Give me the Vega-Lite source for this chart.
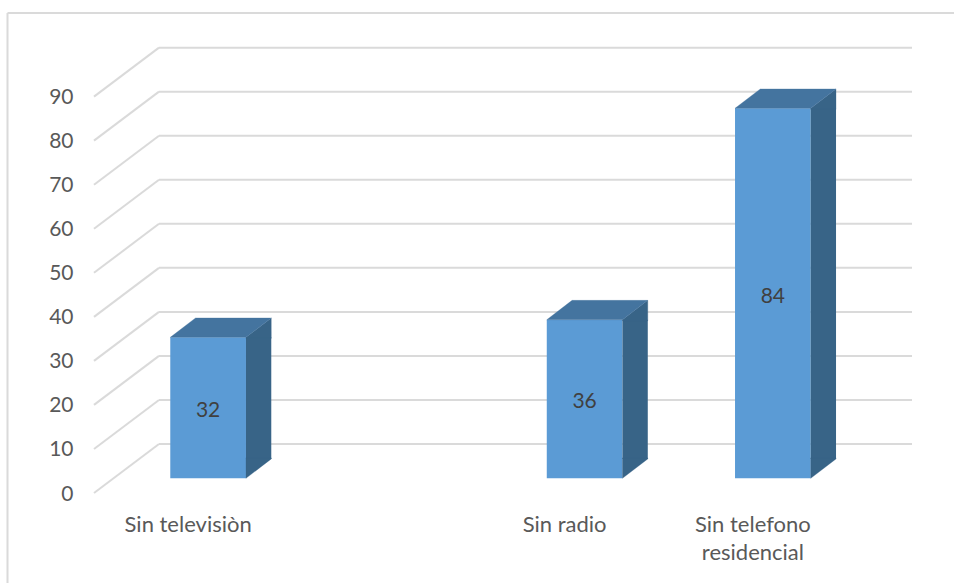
{
  "$schema": "https://vega.github.io/schema/vega-lite/v6.json",
  "width": 753,
  "height": 493,
  "autosize": "none",
  "padding": {"left": 94, "top": 0, "right": 107, "bottom": 90},
  "background": "white",
  "config": {"view": {"stroke": null}, "font": "Lato"},
  "datasets": {
    "barras": [
      {"categoria": "Sin televisiòn", "valor": 32},
      {"categoria": "Sin radio", "valor": 36},
      {"categoria": "Sin telefono residencial", "valor": 84}
    ],
    "niveles": [
      {"nivel": 0}, {"nivel": 10}, {"nivel": 20}, {"nivel": 30}, {"nivel": 40},
      {"nivel": 50}, {"nivel": 60}, {"nivel": 70}, {"nivel": 80}, {"nivel": 90}
    ]
  },
  "data": {"name": "barras"},
  "encoding": {
    "x": {
      "field": "categoria",
      "type": "nominal",
      "sort": null,
      "title": null,
      "scale": {"domain": ["Sin televisiòn", " ", "Sin radio", "Sin telefono residencial"], "paddingInner": 0, "paddingOuter": 0},
      "axis": {
        "domain": false, "ticks": false, "grid": false, "labelAngle": 0,
        "labelFontSize": 22, "labelColor": "#595959", "labelFont": "Lato",
        "labelPadding": 21, "labelLineHeight": 28, "labelLimit": 300,
        "labelExpr": "datum.label == 'Sin telefono residencial' ? ['Sin telefono', 'residencial'] : datum.label"
      }
    }
  },
  "layer": [
    {
      "layer": [
        {
          "data": {"name": "niveles"},
          "mark": {"type": "rule", "color": "#DADADA", "strokeWidth": 2, "xOffset": 65, "x2Offset": 65, "yOffset": -49},
          "encoding": {
            "x": {"value": 0},
            "x2": {"value": 753},
            "y": {
              "field": "nivel", "type": "quantitative", "title": null,
              "scale": {"domain": [0, 111.94], "nice": false, "zero": false},
              "axis": {
                "values": [0, 10, 20, 30, 40, 50, 60, 70, 80, 90],
                "domain": false, "ticks": false, "grid": false,
                "labelFontSize": 21, "labelColor": "#595959", "labelFont": "Lato",
                "labelPadding": 21, "labelOffset": 1
              }
            }
          }
        },
        {
          "data": {"name": "niveles"},
          "mark": {"type": "rule", "color": "#DADADA", "strokeWidth": 2, "x2Offset": 65, "y2Offset": -49},
          "encoding": {
            "x": {"value": 0},
            "x2": {"value": 0},
            "y": {"field": "nivel", "type": "quantitative"},
            "y2": {"field": "nivel"}
          }
        },
        {
          "data": {"values": [{"marco": "superior"}]},
          "mark": {"type": "rule", "color": "#DADADA", "strokeWidth": 2, "xOffset": -86.5, "x2Offset": 0},
          "encoding": {
            "x": {"value": 0},
            "x2": {"value": 860},
            "y": {"datum": 109}
          }
        },
        {
          "data": {"values": [{"marco": "izquierdo"}]},
          "mark": {"type": "rule", "color": "#DADADA", "strokeWidth": 2, "xOffset": -86.5},
          "encoding": {
            "x": {"value": 0},
            "y": {"datum": 109},
            "y2": {"datum": -21}
          }
        },
        {
          "mark": {"type": "bar", "size": 75.7, "color": "#5B9BD5", "xOffset": 20, "yOffset": -14.7, "y2Offset": -14.7},
          "encoding": {
            "y": {"field": "valor", "type": "quantitative"},
            "y2": {"datum": 0}
          }
        },
        {
          "mark": {"type": "bar", "size": 25.3, "color": "#386487", "xOffset": 70.5, "yOffset": -14.7, "y2Offset": -34.1},
          "encoding": {
            "y": {"field": "valor", "type": "quantitative"},
            "y2": {"datum": 0}
          }
        },
        {
          "mark": {"type": "point", "filled": true, "opacity": 1, "size": 4, "color": "#386487", "stroke": "#386487", "strokeWidth": 0.3, "shape": "M-12.65,0L12.65,-19.4L12.65,1L-12.65,1Z", "xOffset": 70.5, "yOffset": -14.7},
          "encoding": {
            "y": {"field": "valor", "type": "quantitative"}
          }
        },
        {
          "mark": {"type": "point", "filled": true, "opacity": 1, "size": 4, "color": "#386487", "stroke": "#386487", "strokeWidth": 0.3, "shape": "M-12.65,-20.4L12.65,-20.4L12.65,-19.4L-12.65,0Z", "xOffset": 70.5, "yOffset": -14.7},
          "encoding": {
            "y": {"datum": 0}
          }
        },
        {
          "mark": {"type": "point", "filled": true, "opacity": 1, "size": 4, "color": "#44749F", "stroke": "#44749F", "strokeWidth": 0.3, "shape": "M-37.85,0L37.85,0L63.15,-19.4L-12.55,-19.4Z", "xOffset": 20, "yOffset": -14.7},
          "encoding": {
            "y": {"field": "valor", "type": "quantitative"}
          }
        }
      ]
    },
    {
      "mark": {"type": "text", "fontSize": 21, "font": "Lato", "color": "#404040", "xOffset": 20, "yOffset": -11.5},
      "encoding": {
        "y": {
          "field": "valor", "type": "quantitative",
          "scale": {"domain": [0, 223.88], "nice": false, "zero": false},
          "axis": null
        },
        "text": {"field": "valor", "type": "quantitative"}
      }
    }
  ],
  "resolve": {"scale": {"y": "independent"}}
}
